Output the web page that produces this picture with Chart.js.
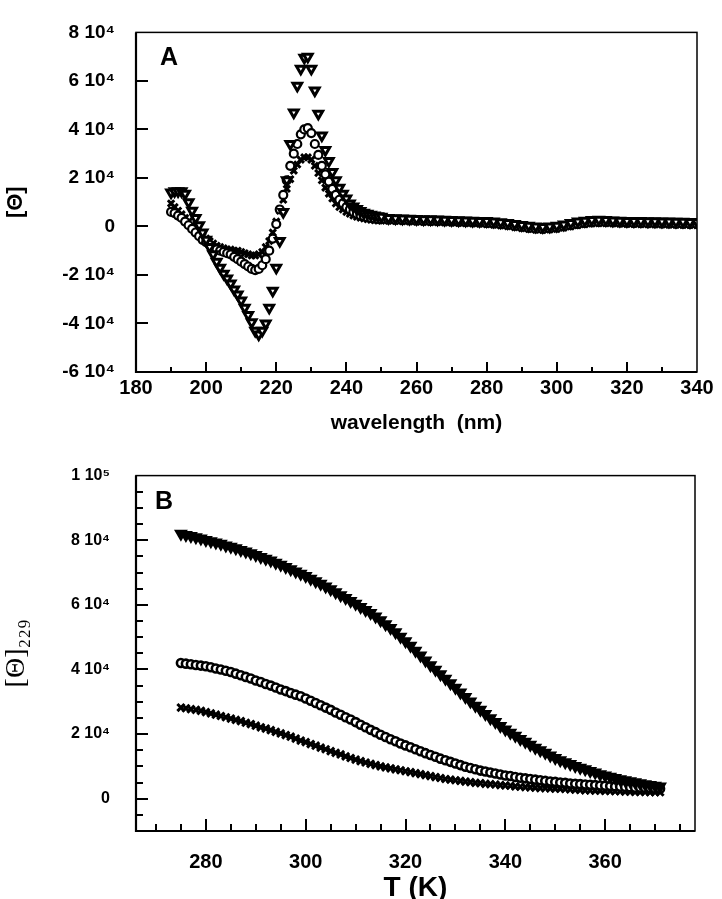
<!DOCTYPE html>
<html>
<head>
<meta charset="utf-8">
<script src="https://cdn.jsdelivr.net/npm/chart.js@4.4.1/dist/chart.umd.min.js"></script>
<style>
  html, body { margin: 0; padding: 0; background: #fff; }
  #wrap-a { position: absolute; left: 0; top: 0; width: 722px; height: 440px; }
  #wrap-b { position: absolute; left: 0; top: 440px; width: 722px; height: 459px; }
</style>
</head>
<body>
<div id="wrap-a"><canvas id="chart-a"></canvas></div>
<div id="wrap-b"><canvas id="chart-b"></canvas></div>
<script>
// ---- panel A: CD spectra, [Θ] in units of 10^4 ----
const wavelength = [
  190, 191, 192, 193, 194, 195, 196, 197, 198, 199,
  200, 201, 202, 203, 204, 205, 206, 207, 208, 209,
  210, 211, 212, 213, 214, 215, 216, 217, 218, 219,
  220, 221, 222, 223, 224, 225, 226, 227, 228, 229,
  230, 231, 232, 233, 234, 235, 236, 237, 238, 239,
  240, 241, 242, 243, 244, 245, 246, 247, 248, 249,
  250, 252, 254, 256, 258, 260, 262, 264, 266, 268,
  270, 272, 274, 276, 278, 280, 282, 284, 286, 288,
  290, 292, 294, 296, 298, 300, 302, 304, 306, 308,
  310, 312, 314, 316, 318, 320, 322, 324, 326, 328,
  330, 332, 334, 336, 338, 340
];
const specTriangles = [
  1.40, 1.45, 1.45, 1.45, 1.35, 1.00, 0.65, 0.35, 0.05, -0.25,
  -0.55, -0.85, -1.15, -1.45, -1.70, -1.95, -2.15, -2.35, -2.60, -2.80,
  -3.05, -3.35, -3.65, -3.95, -4.30, -4.45, -4.30, -4.00, -3.35, -2.65,
  -1.70, -0.60, 0.60, 1.90, 3.40, 4.70, 5.80, 6.50, 6.95, 7.00,
  6.50, 5.60, 4.65, 3.75, 3.15, 2.70, 2.25, 1.90, 1.60, 1.35,
  1.15, 0.95, 0.82, 0.72, 0.64, 0.57, 0.52, 0.48, 0.45, 0.42,
  0.40, 0.35, 0.34, 0.33, 0.32, 0.31, 0.30, 0.30, 0.29, 0.28,
  0.27, 0.26, 0.25, 0.24, 0.23, 0.22, 0.20, 0.17, 0.14, 0.10,
  0.06, 0.03, 0.00, -0.02, 0.00, 0.03, 0.08, 0.14, 0.20, 0.24,
  0.27, 0.28, 0.27, 0.25, 0.24, 0.23, 0.22, 0.22, 0.21, 0.21,
  0.20, 0.20, 0.19, 0.19, 0.18, 0.18
];
const specCircles = [
  0.60, 0.55, 0.45, 0.35, 0.20, 0.05, -0.10, -0.25, -0.40, -0.55,
  -0.65, -0.75, -0.85, -0.95, -1.00, -1.05, -1.10, -1.15, -1.25, -1.35,
  -1.45, -1.55, -1.65, -1.75, -1.80, -1.75, -1.60, -1.35, -1.00, -0.50,
  0.10, 0.70, 1.30, 1.90, 2.50, 3.00, 3.40, 3.80, 4.00, 4.05,
  3.85, 3.40, 2.95, 2.50, 2.15, 1.85, 1.55, 1.30, 1.10, 0.95,
  0.80, 0.70, 0.60, 0.52, 0.46, 0.42, 0.38, 0.35, 0.33, 0.31,
  0.30, 0.28, 0.27, 0.26, 0.25, 0.24, 0.23, 0.22, 0.22, 0.21,
  0.20, 0.19, 0.18, 0.17, 0.16, 0.14, 0.12, 0.09, 0.06, 0.02,
  -0.02, -0.06, -0.09, -0.10, -0.08, -0.05, 0.00, 0.05, 0.10, 0.14,
  0.17, 0.18, 0.18, 0.17, 0.16, 0.15, 0.14, 0.14, 0.13, 0.13,
  0.12, 0.12, 0.11, 0.11, 0.10, 0.10
];
const specCrosses = [
  0.95, 0.80, 0.65, 0.50, 0.35, 0.20, 0.05, -0.10, -0.25, -0.40,
  -0.50, -0.60, -0.70, -0.80, -0.85, -0.90, -0.95, -0.95, -1.00, -1.00,
  -1.05, -1.10, -1.15, -1.20, -1.20, -1.15, -1.05, -0.85, -0.60, -0.25,
  0.20, 0.65, 1.10, 1.55, 1.95, 2.30, 2.55, 2.75, 2.85, 2.85,
  2.75, 2.50, 2.20, 1.90, 1.60, 1.35, 1.15, 0.95, 0.80, 0.70,
  0.60, 0.52, 0.45, 0.40, 0.36, 0.33, 0.30, 0.28, 0.26, 0.25,
  0.24, 0.23, 0.22, 0.21, 0.20, 0.19, 0.18, 0.17, 0.17, 0.16,
  0.15, 0.14, 0.13, 0.12, 0.11, 0.09, 0.07, 0.04, 0.01, -0.03,
  -0.07, -0.11, -0.14, -0.15, -0.13, -0.10, -0.05, 0.00, 0.05, 0.09,
  0.12, 0.13, 0.13, 0.12, 0.11, 0.10, 0.10, 0.09, 0.09, 0.08,
  0.08, 0.07, 0.07, 0.06, 0.06, 0.05
];
const wavelengthTicks = [180, 200, 220, 240, 260, 280, 300, 320, 340];
const thetaTicksA = [-6, -4, -2, 0, 2, 4, 6, 8];

// ---- panel B: thermal melts at 229 nm, [Θ]229 in units of 10^4 ----
const temperature = [
  275, 276, 277, 278, 279, 280, 281, 282, 283, 284,
  285, 286, 287, 288, 289, 290, 291, 292, 293, 294,
  295, 296, 297, 298, 299, 300, 301, 302, 303, 304,
  305, 306, 307, 308, 309, 310, 311, 312, 313, 314,
  315, 316, 317, 318, 319, 320, 321, 322, 323, 324,
  325, 326, 327, 328, 329, 330, 331, 332, 333, 334,
  335, 336, 337, 338, 339, 340, 341, 342, 343, 344,
  345, 346, 347, 348, 349, 350, 351, 352, 353, 354,
  355, 356, 357, 358, 359, 360, 361, 362, 363, 364,
  365, 366, 367, 368, 369, 370, 371
];
const meltTriangles = [
  8.20, 8.16, 8.13, 8.09, 8.05, 8.01, 7.97, 7.93, 7.89, 7.84,
  7.80, 7.75, 7.70, 7.65, 7.60, 7.54, 7.48, 7.43, 7.37, 7.30,
  7.24, 7.17, 7.10, 7.03, 6.96, 6.89, 6.81, 6.73, 6.65, 6.57,
  6.48, 6.39, 6.30, 6.21, 6.12, 6.03, 5.93, 5.84, 5.75, 5.64,
  5.52, 5.40, 5.28, 5.15, 5.01, 4.87, 4.73, 4.58, 4.43, 4.28,
  4.13, 3.99, 3.85, 3.71, 3.57, 3.43, 3.29, 3.15, 3.01, 2.88,
  2.75, 2.62, 2.49, 2.37, 2.25, 2.14, 2.04, 1.95, 1.85, 1.76,
  1.67, 1.58, 1.50, 1.42, 1.34, 1.26, 1.19, 1.13, 1.07, 1.01,
  0.96, 0.91, 0.86, 0.81, 0.76, 0.72, 0.68, 0.64, 0.60, 0.57,
  0.54, 0.51, 0.48, 0.45, 0.42, 0.40, 0.38
];
const meltCircles = [
  4.20, 4.18, 4.16, 4.14, 4.12, 4.10, 4.07, 4.03, 4.00, 3.96,
  3.92, 3.87, 3.82, 3.77, 3.72, 3.66, 3.61, 3.55, 3.50, 3.44,
  3.38, 3.33, 3.27, 3.22, 3.17, 3.10, 3.03, 2.96, 2.89, 2.82,
  2.75, 2.67, 2.60, 2.52, 2.45, 2.37, 2.29, 2.21, 2.13, 2.06,
  1.98, 1.91, 1.84, 1.78, 1.71, 1.65, 1.59, 1.53, 1.47, 1.41,
  1.35, 1.30, 1.24, 1.19, 1.14, 1.09, 1.04, 0.99, 0.95, 0.91,
  0.87, 0.84, 0.81, 0.78, 0.75, 0.72, 0.70, 0.67, 0.65, 0.63,
  0.61, 0.59, 0.57, 0.55, 0.53, 0.52, 0.50, 0.49, 0.47, 0.46,
  0.45, 0.44, 0.43, 0.42, 0.41, 0.40, 0.39, 0.38, 0.37, 0.36,
  0.35, 0.34, 0.34, 0.33, 0.32, 0.31, 0.31
];
const meltCrosses = [
  2.82, 2.80, 2.77, 2.75, 2.72, 2.68, 2.64, 2.60, 2.56, 2.52,
  2.48, 2.44, 2.40, 2.35, 2.31, 2.26, 2.21, 2.17, 2.12, 2.07,
  2.02, 1.97, 1.92, 1.86, 1.80, 1.75, 1.69, 1.64, 1.58, 1.53,
  1.47, 1.42, 1.37, 1.31, 1.26, 1.21, 1.16, 1.12, 1.08, 1.04,
  1.00, 0.97, 0.94, 0.91, 0.88, 0.85, 0.82, 0.79, 0.76, 0.73,
  0.70, 0.67, 0.64, 0.61, 0.59, 0.57, 0.55, 0.53, 0.51, 0.49,
  0.48, 0.46, 0.45, 0.44, 0.42, 0.41, 0.40, 0.38, 0.37, 0.36,
  0.35, 0.34, 0.33, 0.33, 0.32, 0.31, 0.31, 0.30, 0.29, 0.28,
  0.27, 0.26, 0.26, 0.25, 0.25, 0.24, 0.24, 0.23, 0.23, 0.22,
  0.22, 0.21, 0.21, 0.21, 0.20, 0.20, 0.20
];
const tempTicks = [280, 300, 320, 340, 360];
const thetaTicksB = [0, 2, 4, 6, 8, 10];

const SANS = "'Liberation Sans', Arial, Helvetica, sans-serif";
const SERIF = "'Liberation Serif', 'Times New Roman', serif";

function pairs(xs, ys) {
  return xs.map((x, i) => ({ x, y: ys[i] }));
}

// value in units of 10^4 -> "8 10⁴", "1 10⁵"
function sciLabel(v) {
  if (v === 0) return "0";
  if (Math.abs(v) >= 10) return `${v / 10} 10\u2075`;
  return `${v} 10\u2074`;
}

function fixTicks(values) {
  return (scale) => {
    scale.ticks = values.map((v) => ({ value: v }));
  };
}

// box around the plot, inward tick marks, panel letter
const frameTicks = {
  id: "frameTicks",
  afterDraw(chart, args, o) {
    const { ctx, chartArea: a, scales } = chart;
    const x = scales.x;
    const y = scales.y;
    ctx.save();
    ctx.strokeStyle = "#000";
    ctx.lineWidth = 1.5;
    ctx.strokeRect(a.left, a.top, a.right - a.left, a.bottom - a.top);
    ctx.lineWidth = 2.2;
    ctx.beginPath();
    ctx.moveTo(a.left, a.top);
    ctx.lineTo(a.left, a.bottom);
    ctx.lineTo(a.right, a.bottom);
    ctx.stroke();

    ctx.lineWidth = 2;
    ctx.beginPath();
    for (let v = Math.ceil(x.min / o.xMinor) * o.xMinor; v < x.max; v += o.xMinor) {
      const px = Math.round(x.getPixelForValue(v));
      const len = v % o.xMajor === 0 ? o.xMajorLen : o.xMinorLen;
      ctx.moveTo(px, a.bottom);
      ctx.lineTo(px, a.bottom - len);
    }
    for (let v = Math.ceil(y.min / o.yMinor) * o.yMinor; v < y.max; v += o.yMinor) {
      const py = Math.round(y.getPixelForValue(v));
      const len = v % o.yMajor === 0 ? o.yMajorLen : o.yMinorLen;
      ctx.moveTo(a.left, py);
      ctx.lineTo(a.left + len, py);
    }
    ctx.stroke();

    ctx.fillStyle = "#000";
    ctx.font = `bold 25px ${SANS}`;
    ctx.textAlign = "left";
    ctx.textBaseline = "middle";
    ctx.fillText(o.letter, a.left + o.letterDx, a.top + o.letterDy);
    ctx.restore();
  },
};

const triangleStyle = {
  pointStyle: "triangle", rotation: 180, pointRadius: 5,
  backgroundColor: "#fff", borderColor: "#000", borderWidth: 3,
};
const circleStyle = {
  pointStyle: "circle", pointRadius: 4,
  backgroundColor: "#fff", borderColor: "#000", borderWidth: 2.2,
};
const crossStyle = {
  pointStyle: "crossRot", pointRadius: 4.5,
  backgroundColor: "#000", borderColor: "#000", borderWidth: 3,
};

Chart.defaults.color = "#000";
Chart.defaults.font.family = SANS;

const chartA = new Chart(document.getElementById("chart-a"), {
  type: "scatter",
  data: {
    datasets: [
      { label: "triangles", data: pairs(wavelength, specTriangles), ...triangleStyle },
      { label: "circles", data: pairs(wavelength, specCircles), ...circleStyle },
      { label: "crosses", data: pairs(wavelength, specCrosses), ...crossStyle },
    ],
  },
  options: {
    responsive: true,
    maintainAspectRatio: false,
    animation: false,
    events: [],
    layout: { padding: { top: 15, right: 25, left: 0, bottom: 0 } },
    plugins: {
      legend: { display: false },
      tooltip: { enabled: false },
      frameTicks: {
        xMinor: 10, xMajor: 20, xMajorLen: 10, xMinorLen: 5,
        yMinor: 2, yMajor: 2, yMajorLen: 12, yMinorLen: 6,
        letter: "A", letterDx: 24, letterDy: 26,
      },
    },
    scales: {
      x: {
        type: "linear", min: 180, max: 340,
        grid: { display: false, drawTicks: false },
        border: { display: false },
        afterBuildTicks: fixTicks(wavelengthTicks),
        afterFit: (s) => { s.height = 68; },
        ticks: { padding: 4, maxRotation: 0, font: { size: 20, weight: "bold" } },
        title: {
          display: true, text: "wavelength  (nm)",
          font: { size: 21, weight: "bold" }, padding: { top: 0, bottom: 4 },
        },
      },
      y: {
        type: "linear", min: -6, max: 8,
        grid: { display: false, drawTicks: false },
        border: { display: false },
        afterBuildTicks: fixTicks(thetaTicksA),
        afterFit: (s) => { s.width = 136; },
        ticks: { padding: 21, callback: sciLabel, font: { size: 19, weight: "bold" } },
        title: {
          display: true, text: "[\u0398]",
          font: { size: 22, weight: "bold" }, padding: { top: 3, bottom: 0 },
        },
      },
    },
  },
  plugins: [frameTicks],
});

const chartB = new Chart(document.getElementById("chart-b"), {
  type: "scatter",
  data: {
    datasets: [
      { label: "triangles", data: pairs(temperature, meltTriangles), ...triangleStyle, backgroundColor: "#000" },
      { label: "circles", data: pairs(temperature, meltCircles), ...circleStyle, borderWidth: 2.6 },
      { label: "crosses", data: pairs(temperature, meltCrosses), ...crossStyle, pointRadius: 5 },
    ],
  },
  options: {
    responsive: true,
    maintainAspectRatio: false,
    animation: false,
    events: [],
    layout: { padding: { top: 34, right: 27, left: 0, bottom: 0 } },
    plugins: {
      legend: { display: false },
      tooltip: { enabled: false },
      frameTicks: {
        xMinor: 5, xMajor: 20, xMajorLen: 12, xMinorLen: 7,
        yMinor: 0.5, yMajor: 2, yMajorLen: 12, yMinorLen: 7,
        letter: "B", letterDx: 19, letterDy: 27,
      },
    },
    scales: {
      x: {
        type: "linear", min: 266, max: 378,
        grid: { display: false, drawTicks: false },
        border: { display: false },
        afterBuildTicks: fixTicks(tempTicks),
        afterFit: (s) => { s.height = 68; },
        ticks: { padding: 19, maxRotation: 0, font: { size: 20, weight: "bold" } },
        title: {
          display: true, text: "T (K)",
          font: { size: 28, weight: "bold", lineHeight: 0.8 }, padding: { top: 0, bottom: 0 },
        },
      },
      y: {
        type: "linear", min: -1, max: 10,
        grid: { display: false, drawTicks: false },
        border: { display: false },
        afterBuildTicks: fixTicks(thetaTicksB),
        afterFit: (s) => { s.width = 136; },
        ticks: { padding: 26, callback: sciLabel, font: { size: 16, weight: "bold" } },
        title: {
          display: true, text: "[\u0398]\u2082\u2082\u2089",
          font: { family: SERIF, size: 28, weight: "normal", lineHeight: 1 },
          padding: { top: 3, bottom: 0 },
        },
      },
    },
  },
  plugins: [frameTicks],
});
</script>
</body>
</html>
